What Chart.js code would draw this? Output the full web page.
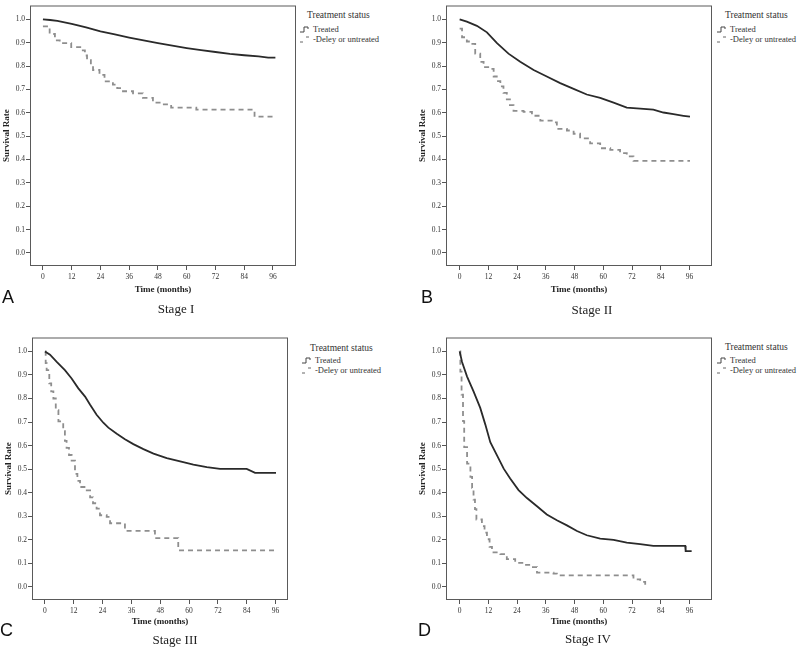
<!DOCTYPE html>
<html>
<head>
<meta charset="utf-8">
<script src="https://cdn.jsdelivr.net/npm/chart.js@4.4.1/dist/chart.umd.min.js"></script>
<style>
  body { margin: 0; background: #fff; width: 800px; height: 649px; position: relative; overflow: hidden; }
  canvas { position: absolute; }
  .txt { position: absolute; font-family: "Liberation Serif", "DejaVu Serif", serif; color: #333; white-space: nowrap; }
  .ltitle { font-size: 9.5px; line-height: 10px; }
  .lrow { font-size: 8.5px; line-height: 10px; height: 10px; display: flex; align-items: center; }
  .lrow svg { margin-right: 1px; }
  .stage { font-size: 13px; line-height: 16px; color: #222; transform: translateX(-50%); }
  .letter { position: absolute; font-family: "Liberation Sans", Arial, sans-serif; font-size: 18px; line-height: 18px; color: #111; }
</style>
</head>
<body>
<canvas id="chartA" width="300" height="300" style="left:0;top:0"></canvas>
<canvas id="chartB" width="300" height="300" style="left:416px;top:0"></canvas>
<canvas id="chartC" width="290" height="300" style="left:2px;top:332px"></canvas>
<canvas id="chartD" width="300" height="300" style="left:416px;top:332px"></canvas>

<div class="txt ltitle" style="left:307px;top:10px">Treatment status</div>
<div class="txt lrow" style="left:300px;top:24px"><svg width="12" height="8"><polyline points="0,7 4,7 4,2 8,2 8,4" fill="none" stroke="#444" stroke-width="1"/></svg>Treated</div>
<div class="txt lrow" style="left:300px;top:34px"><svg width="12" height="8"><line x1="0" y1="7" x2="3" y2="7" stroke="#666"/><line x1="6" y1="2" x2="9" y2="2" stroke="#666"/></svg>-Deley or untreated</div>

<div class="txt ltitle" style="left:725px;top:10px">Treatment status</div>
<div class="txt lrow" style="left:717px;top:24px"><svg width="12" height="8"><polyline points="0,7 4,7 4,2 8,2 8,4" fill="none" stroke="#444" stroke-width="1"/></svg>Treated</div>
<div class="txt lrow" style="left:717px;top:34px"><svg width="12" height="8"><line x1="0" y1="7" x2="3" y2="7" stroke="#666"/><line x1="6" y1="2" x2="9" y2="2" stroke="#666"/></svg>-Deley or untreated</div>

<div class="txt ltitle" style="left:310px;top:343px">Treatment status</div>
<div class="txt lrow" style="left:302px;top:355px"><svg width="12" height="8"><polyline points="0,7 4,7 4,2 8,2 8,4" fill="none" stroke="#444" stroke-width="1"/></svg>Treated</div>
<div class="txt lrow" style="left:302px;top:365px"><svg width="12" height="8"><line x1="0" y1="7" x2="3" y2="7" stroke="#666"/><line x1="6" y1="2" x2="9" y2="2" stroke="#666"/></svg>-Deley or untreated</div>

<div class="txt ltitle" style="left:725px;top:342px">Treatment status</div>
<div class="txt lrow" style="left:717px;top:355px"><svg width="12" height="8"><polyline points="0,7 4,7 4,2 8,2 8,4" fill="none" stroke="#444" stroke-width="1"/></svg>Treated</div>
<div class="txt lrow" style="left:717px;top:365px"><svg width="12" height="8"><line x1="0" y1="7" x2="3" y2="7" stroke="#666"/><line x1="6" y1="2" x2="9" y2="2" stroke="#666"/></svg>-Deley or untreated</div>

<div class="letter" style="left:2px;top:288px">A</div>
<div class="letter" style="left:421px;top:288px">B</div>
<div class="letter" style="left:0px;top:621px">C</div>
<div class="letter" style="left:418px;top:621px">D</div>

<div class="txt stage" style="left:176px;top:301px">Stage I</div>
<div class="txt stage" style="left:592px;top:302px">Stage II</div>
<div class="txt stage" style="left:175px;top:632px">Stage III</div>
<div class="txt stage" style="left:588px;top:631px">Stage IV</div>

<script>
const monthTicks = [0, 12, 24, 36, 48, 60, 72, 84, 96];
const rateTicks = [0, 0.1, 0.2, 0.3, 0.4, 0.5, 0.6, 0.7, 0.8, 0.9, 1.0];

// Stage I
const s1TreatedTime = [0, 3, 6, 12, 18, 24, 30, 36, 42, 48, 54, 60, 66, 72, 78, 84, 90, 94, 97];
const s1TreatedRate = [1.0, 0.997, 0.993, 0.980, 0.965, 0.948, 0.935, 0.922, 0.910, 0.898, 0.887, 0.877, 0.868, 0.860, 0.852, 0.846, 0.841, 0.836, 0.836];
const s1DelayTime = [0, 2.8, 5, 7, 11.8, 16, 17.5, 18.4, 20, 20.9, 23.6, 25.7, 29.2, 31, 33.4, 37.6, 41.7, 45.9, 50, 53.5, 64, 88.3, 96];
const s1DelayRate = [0.97, 0.937, 0.91, 0.898, 0.881, 0.867, 0.845, 0.825, 0.80, 0.783, 0.762, 0.734, 0.72, 0.705, 0.692, 0.683, 0.664, 0.643, 0.636, 0.622, 0.613, 0.583, 0.583];

// Stage II
const s2TreatedTime = [0, 3, 7.2, 11.4, 15.6, 20.4, 25.3, 30.9, 36.4, 42, 47.6, 53.1, 58.7, 64.3, 69.8, 75.4, 80.9, 85.1, 89.3, 93.5, 96.2];
const s2TreatedRate = [1.0, 0.99, 0.972, 0.944, 0.898, 0.853, 0.818, 0.783, 0.755, 0.727, 0.702, 0.678, 0.664, 0.643, 0.622, 0.618, 0.613, 0.601, 0.594, 0.587, 0.583];
const s2DelayTime = [0, 1, 3, 4.5, 6.5, 8.6, 10, 12.8, 14.2, 15.5, 17, 18.3, 19.7, 21, 22.5, 26.7, 30.2, 33.7, 39.2, 40.6, 44.8, 47.6, 50.3, 54.5, 58.7, 62.9, 67, 69.8, 72.6, 96.2];
const s2DelayRate = [0.96, 0.923, 0.905, 0.895, 0.853, 0.818, 0.795, 0.788, 0.755, 0.735, 0.713, 0.685, 0.657, 0.633, 0.608, 0.604, 0.587, 0.566, 0.559, 0.531, 0.524, 0.51, 0.49, 0.469, 0.448, 0.441, 0.427, 0.413, 0.394, 0.394];

// Stage III
const s3TreatedTime = [0, 2.1, 4.9, 8.3, 11.1, 13.9, 16.7, 18.8, 21.5, 24.3, 26.4, 29.9, 33.3, 36.8, 41, 45.2, 50.7, 56.3, 61.8, 67.4, 72.9, 84, 87.5, 96.2];
const s3TreatedRate = [1.0, 0.986, 0.955, 0.920, 0.885, 0.843, 0.808, 0.773, 0.731, 0.697, 0.676, 0.650, 0.627, 0.606, 0.585, 0.566, 0.547, 0.533, 0.519, 0.508, 0.501, 0.501, 0.484, 0.484];
const s3DelayTime = [0, 0.3, 0.7, 1.8, 2.6, 3.5, 4.5, 5.6, 7.6, 8.3, 9, 10, 11.1, 12.5, 13.5, 14.6, 17.4, 18.8, 20, 21.5, 22.9, 25.7, 27.1, 33.3, 45.8, 55.5, 96];
const s3DelayRate = [1.0, 0.95, 0.92, 0.864, 0.83, 0.80, 0.75, 0.703, 0.661, 0.62, 0.59, 0.56, 0.536, 0.48, 0.45, 0.424, 0.41, 0.38, 0.355, 0.332, 0.304, 0.297, 0.27, 0.238, 0.207, 0.155, 0.155];

// Stage IV
const s4TreatedTime = [0, 1, 3.1, 5.8, 8.6, 10.7, 12.8, 15.6, 18.4, 21.1, 24.6, 28.1, 32.3, 36.4, 40.6, 44.8, 49, 53.1, 58.7, 64.3, 69.8, 75.4, 80.9, 94.2, 94.4, 96.9];
const s4TreatedRate = [1.0, 0.955, 0.893, 0.83, 0.76, 0.69, 0.614, 0.558, 0.502, 0.46, 0.411, 0.377, 0.342, 0.307, 0.283, 0.261, 0.237, 0.219, 0.205, 0.199, 0.188, 0.181, 0.174, 0.174, 0.152, 0.152];
const s4DelayTime = [0, 0.3, 0.8, 1.4, 1.9, 3.1, 4.5, 5.2, 5.8, 6.4, 7, 9.3, 10.4, 11.4, 12.5, 13.5, 17, 19.7, 23.2, 26.7, 30.2, 32.3, 39.2, 40.6, 72.6, 75.4, 77.5];
const s4DelayRate = [1.0, 0.914, 0.816, 0.704, 0.593, 0.523, 0.467, 0.42, 0.37, 0.33, 0.286, 0.258, 0.23, 0.202, 0.17, 0.146, 0.139, 0.118, 0.102, 0.093, 0.084, 0.06, 0.056, 0.049, 0.032, 0.021, 0.004];

const serif = '"Liberation Serif", "DejaVu Serif", serif';

function toPoints(times, rates) {
    return times.map((t, i) => ({ x: t, y: rates[i] }));
}

// SPSS style frame round the plot area
const frameBox = {
    id: 'frameBox',
    afterDraw(chart) {
        const { ctx, chartArea: a } = chart;
        ctx.save();
        ctx.strokeStyle = '#5a5a5a';
        ctx.lineWidth = 1;
        ctx.strokeRect(a.left + 0.5, a.top + 0.5, a.right - a.left - 1, a.bottom - a.top - 1);
        ctx.restore();
    }
};

function makeKM(id, treated, delay, xMin, xMax, xAxisHeight) {
    return new Chart(document.getElementById(id), {
        type: 'line',
        data: {
            datasets: [{
                label: 'Treated',
                data: treated,
                borderColor: '#2a2a2a',
                borderWidth: 1.8,
                pointRadius: 0,
                tension: 0
            }, {
                label: 'Deley or untreated',
                data: delay,
                borderColor: '#8e8e8e',
                borderWidth: 1.8,
                borderDash: [5, 4],
                pointRadius: 0,
                stepped: 'before'
            }]
        },
        options: {
            responsive: false,
            animation: false,
            layout: { padding: { top: 1, right: 4, left: 0, bottom: 0 } },
            plugins: { legend: { display: false }, tooltip: { enabled: false } },
            scales: {
                x: {
                    type: 'linear',
                    min: xMin,
                    max: xMax,
                    afterBuildTicks: s => { s.ticks = monthTicks.map(v => ({ value: v })); },
                    afterFit: s => { s.height = xAxisHeight; },
                    grid: { drawOnChartArea: false, drawTicks: true, tickLength: 4, color: '#555' },
                    border: { display: false },
                    ticks: { padding: 3, color: '#333', autoSkip: false, maxRotation: 0, font: { family: serif, size: 7.5 } },
                    title: { display: true, text: 'Time (months)', color: '#222', font: { family: serif, size: 9, weight: 'bold' }, padding: { top: 0, bottom: 5 } }
                },
                y: {
                    min: -0.056,
                    max: 1.059,
                    afterBuildTicks: s => { s.ticks = rateTicks.map(v => ({ value: v })); },
                    afterFit: s => { s.width = 30; },
                    grid: { drawOnChartArea: false, drawTicks: true, tickLength: 4, color: '#555' },
                    border: { display: false },
                    ticks: { padding: 1, color: '#333', callback: v => v.toFixed(1), font: { family: serif, size: 7.5 } },
                    title: { display: true, text: 'Survival Rate', color: '#222', font: { family: serif, size: 9, weight: 'bold' }, padding: { top: 1, bottom: 0 } }
                }
            }
        },
        plugins: [frameBox]
    });
}

makeKM('chartA', toPoints(s1TreatedTime, s1TreatedRate), toPoints(s1DelayTime, s1DelayRate), -5.4, 105.6, 34);
makeKM('chartB', toPoints(s2TreatedTime, s2TreatedRate), toPoints(s2DelayTime, s2DelayRate), -5.7, 105.4, 34);
makeKM('chartC', toPoints(s3TreatedTime, s3TreatedRate), toPoints(s3DelayTime, s3DelayRate), -5.4, 101.2, 32);
makeKM('chartD', toPoints(s4TreatedTime, s4TreatedRate), toPoints(s4DelayTime, s4DelayRate), -5.7, 105.4, 32);
</script>
</body>
</html>
